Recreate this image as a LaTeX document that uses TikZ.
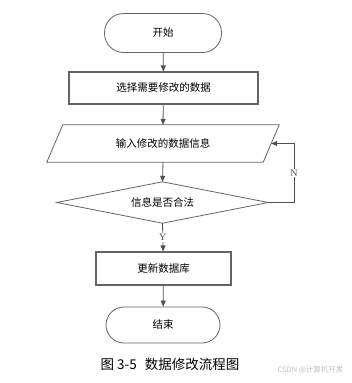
\documentclass[tikz,border=0pt]{standalone}
\usepackage{fontspec}
\setmainfont{Liberation Serif}
\newfontfamily\cjk{Noto Sans CJK SC}
\usetikzlibrary{shapes.geometric,arrows.meta}
\definecolor{ln}{RGB}{80,80,80}
\definecolor{bd}{RGB}{100,100,100}
\tikzset{
  term/.style={draw=bd, line width=0.8pt, rounded corners=19pt, font=\cjk\fontsize{10.5}{12}\selectfont, inner sep=0pt},
  proc/.style={draw=bd, line width=1.1pt, font=\cjk\fontsize{10.5}{12}\selectfont, inner sep=0pt},
  io/.style={font=\cjk\fontsize{10.5}{12}\selectfont, inner sep=0pt, minimum width=216pt, minimum height=37pt},
  dec/.style={font=\cjk\fontsize{10.5}{12}\selectfont, inner sep=0pt, minimum width=211pt, minimum height=41pt},
  outl/.style={draw=bd, line width=0.8pt},
  arr/.style={draw=ln, line width=0.8pt, -{Triangle[length=6pt,width=5pt]}},
  lab/.style={font=\fontsize{10}{12}\selectfont, text=ln, fill=white, inner sep=1pt}
}
\begin{document}
\begin{tikzpicture}[x=1pt,y=-1pt]
\useasboundingbox (0,0) rectangle (351,383);
\node[term, minimum width=117pt, minimum height=39pt] (start) at (163,33) {开始};
\node[proc, minimum width=189pt, minimum height=32pt] (sel) at (163.5,88) {选择需要修改的数据};
\node[io] (in) at (163,143.5) {输入修改的数据信息};
\draw[outl] ([xshift=8pt]in.north west) -- ([xshift=8pt]in.north east) -- ([xshift=-8pt]in.south east) -- ([xshift=-8pt]in.south west) -- cycle;
\node[dec] (chk) at (162.5,202.5) {信息是否合法};
\draw[outl] (chk.north) -- (chk.east) -- (chk.south) -- (chk.west) -- cycle;
\node[proc, minimum width=135pt, minimum height=33pt] (upd) at (163.5,268.5) {更新数据库};
\node[term, minimum width=114pt, minimum height=36pt, rounded corners=18pt] (end) at (163,325) {结束};
\coordinate (nc) at (294,202.5);
\draw[arr] (start) -- (sel);
\draw[arr] (sel) -- (in.north);
\draw[arr] (in.south) -- (chk.north);
\draw[arr] (chk.south) -- node[lab, pos=0.5] {Y} (upd);
\draw[arr] (upd) -- (end);
\draw[arr] (chk.east) -- (nc) -- node[lab, pos=0.5] {N} (nc |- in.east) -- (in.east);
\node[font=\cjk\fontsize{13.5}{15}\selectfont] (cap) at (170,364.5) {图 3-5\hspace{0.6em}数据修改流程图};
\node[font=\cjk\fontsize{7.5}{9}\selectfont, text=black!25, anchor=east] (wm) at (347,370) {CSDN @计算机开发};
\end{tikzpicture}
\end{document}
